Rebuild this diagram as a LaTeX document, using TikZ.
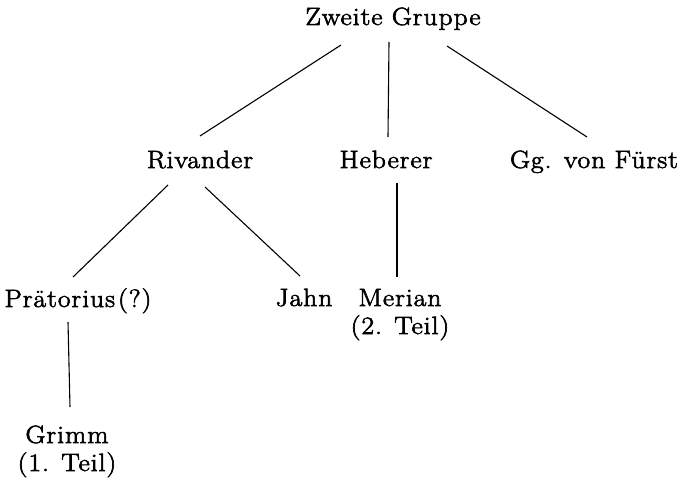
\documentclass[tikz,border=0pt]{standalone}
\usepackage{fontspec}
\newfontfamily\widefont{Latin Modern Roman}[FakeStretch=1.1,LetterSpace=4,FakeBold=2.5]
\begin{document}
\begin{tikzpicture}[x=1pt,y=1pt,
  lbl/.style={anchor=base,inner sep=0pt,align=center,font=\widefont\fontsize{25}{28}\selectfont},
  edge/.style={line width=1.1pt}]
\useasboundingbox (0,0) rectangle (682,-486);
\node[lbl] (z) at (393,-25) {Zweite Gruppe};
\node[lbl] (riv) at (200,-168) {Rivander};
\node[lbl] (heb) at (386,-168) {Heberer};
\node[lbl] (fue) at (594,-168) {Gg. von Fürst};
\node[lbl] (prae) at (78,-307) {Prätorius\hspace{3pt}(?)};
\node[lbl] (jahn) at (304,-306) {Jahn};
\node[lbl] (mer) at (400,-334) {Merian\\(2. Teil)};
\node[lbl] (grimm) at (67,-471) {Grimm\\(1. Teil)};
\draw[edge] ([shift={(-52,-20)}]z.base) -- ([shift={(0,32)}]riv.base);
\draw[edge] ([shift={(-4,-17)}]z.base) -- ([shift={(2,31)}]heb.base);
\draw[edge] ([shift={(54,-21)}]z.base) -- ([shift={(-7,31)}]fue.base);
\draw[edge] ([shift={(-32,-17)}]riv.base) -- ([shift={(-5,30)}]prae.base);
\draw[edge] ([shift={(5,-19)}]riv.base) -- ([shift={(-4,30)}]jahn.base);
\draw[edge] ([shift={(11,-15)}]heb.base) -- ([shift={(-3,57)}]mer.base);
\draw[edge] ([shift={(-10,-15)}]prae.base) -- ([shift={(3,64)}]grimm.base);
\end{tikzpicture}
\end{document}
